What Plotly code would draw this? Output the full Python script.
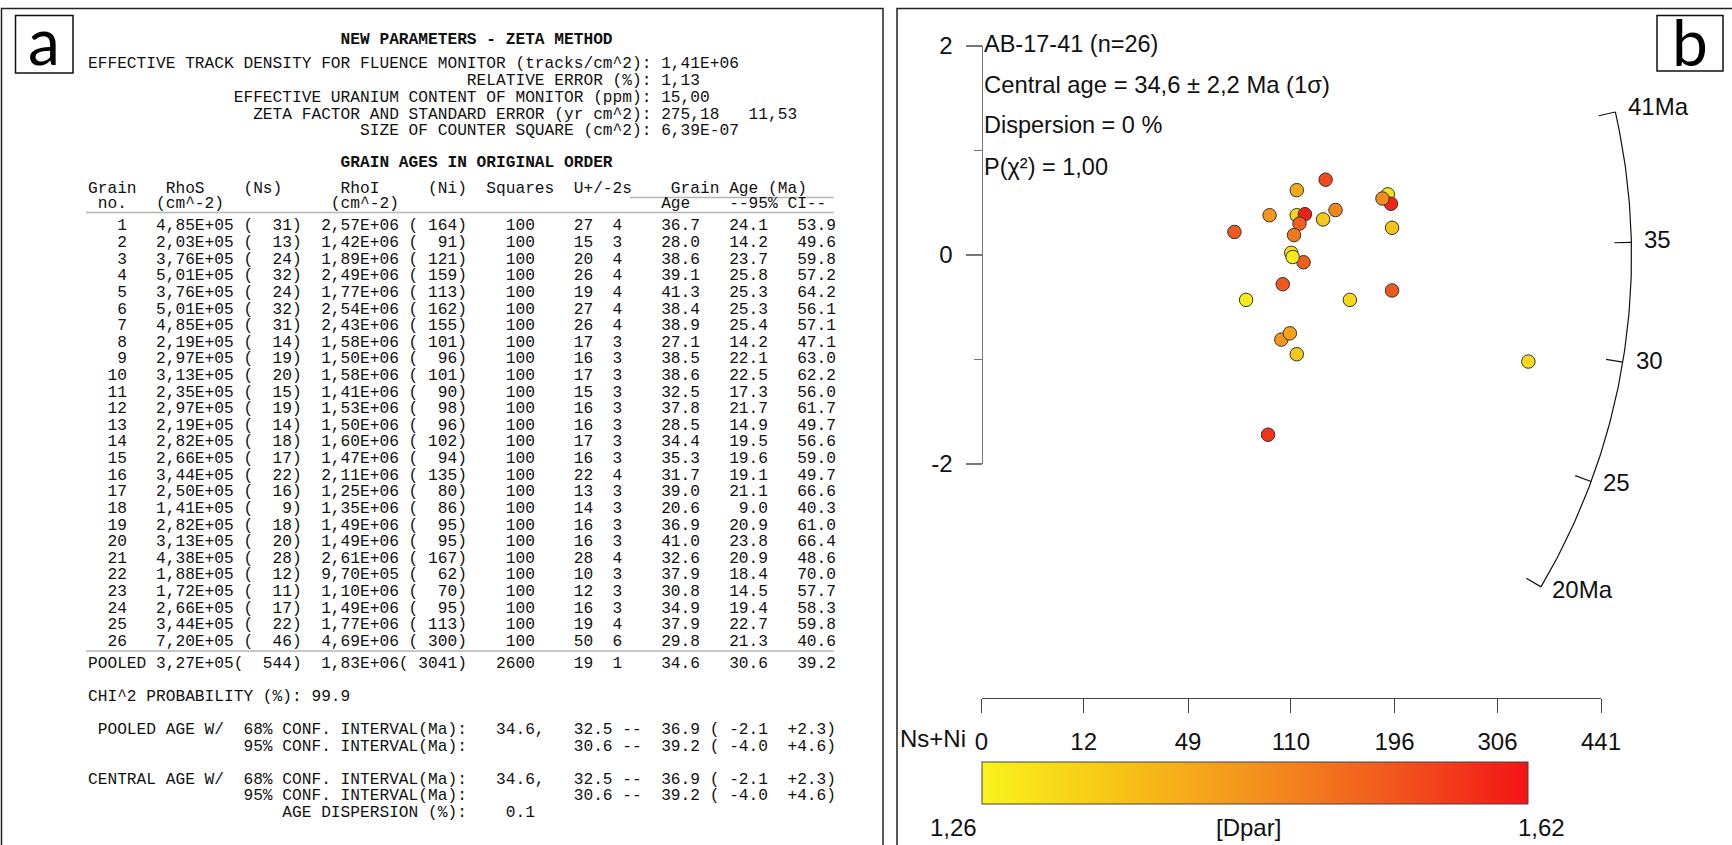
import math
import plotly.graph_objects as go

W, H = 1732, 845

# ---------------- data ----------------
grain = [1, 2, 3, 4, 5, 6, 7, 8, 9, 10, 11, 12, 13, 14, 15, 16, 17, 18, 19, 20, 21, 22, 23, 24, 25, 26]
rhos = ["4,85E+05", "2,03E+05", "3,76E+05", "5,01E+05", "3,76E+05", "5,01E+05", "4,85E+05",
        "2,19E+05", "2,97E+05", "3,13E+05", "2,35E+05", "2,97E+05", "2,19E+05", "2,82E+05",
        "2,66E+05", "3,44E+05", "2,50E+05", "1,41E+05", "2,82E+05", "3,13E+05", "4,38E+05",
        "1,88E+05", "1,72E+05", "2,66E+05", "3,44E+05", "7,20E+05"]
ns = [31, 13, 24, 32, 24, 32, 31, 14, 19, 20, 15, 19, 14, 18, 17, 22, 16, 9, 18, 20, 28, 12, 11, 17, 22, 46]
rhoi = ["2,57E+06", "1,42E+06", "1,89E+06", "2,49E+06", "1,77E+06", "2,54E+06", "2,43E+06",
        "1,58E+06", "1,50E+06", "1,58E+06", "1,41E+06", "1,53E+06", "1,50E+06", "1,60E+06",
        "1,47E+06", "2,11E+06", "1,25E+06", "1,35E+06", "1,49E+06", "1,49E+06", "2,61E+06",
        "9,70E+05", "1,10E+06", "1,49E+06", "1,77E+06", "4,69E+06"]
ni = [164, 91, 121, 159, 113, 162, 155, 101, 96, 101, 90, 98, 96, 102, 94, 135, 80, 86, 95, 95, 167, 62, 70, 95, 113, 300]
squares = [100, 100, 100, 100, 100, 100, 100, 100, 100, 100, 100, 100, 100,
           100, 100, 100, 100, 100, 100, 100, 100, 100, 100, 100, 100, 100]
u_ppm = [27, 15, 20, 26, 19, 27, 26, 17, 16, 17, 15, 16, 16, 17, 16, 22, 13, 14, 16, 16, 28, 10, 12, 16, 19, 50]
u_2s = [4, 3, 4, 4, 4, 4, 4, 3, 3, 3, 3, 3, 3, 3, 3, 4, 3, 3, 3, 3, 4, 3, 3, 3, 4, 6]
age = [36.7, 28.0, 38.6, 39.1, 41.3, 38.4, 38.9, 27.1, 38.5, 38.6, 32.5, 37.8, 28.5, 34.4, 35.3,
       31.7, 39.0, 20.6, 36.9, 41.0, 32.6, 37.9, 30.8, 34.9, 37.9, 29.8]
ci_lo = [24.1, 14.2, 23.7, 25.8, 25.3, 25.3, 25.4, 14.2, 22.1, 22.5, 17.3, 21.7, 14.9, 19.5, 19.6,
         19.1, 21.1, 9.0, 20.9, 23.8, 20.9, 18.4, 14.5, 19.4, 22.7, 21.3]
ci_hi = [53.9, 49.6, 59.8, 57.2, 64.2, 56.1, 57.1, 47.1, 63.0, 62.2, 56.0, 61.7, 49.7, 56.6, 59.0,
         49.7, 66.6, 40.3, 61.0, 66.4, 48.6, 70.0, 57.7, 58.3, 59.8, 40.6]

# radial plot: standardised estimate (y) and Dpar colour, read per grain
radial_y = [0.27, -0.80, 0.44, 0.59, 0.73, 0.50, 0.55, -0.94, 0.39, 0.40, -0.27, 0.31, -0.74,
            -0.06, 0.03, -0.42, 0.39, -1.71, 0.20, 0.63, -0.33, 0.23, -0.42, -0.01, 0.35, -1.01]
dpar = [1.35, 1.43, 1.46, 1.29, 1.55, 1.60, 1.45, 1.34, 1.31, 1.61, 1.53, 1.52, 1.41,
        1.52, 1.30, 1.31, 1.43, 1.58, 1.48, 1.40, 1.53, 1.53, 1.28, 1.28, 1.34, 1.31]

nsni_ticks = [0, 12, 49, 110, 196, 306, 441]
z_ticks = [-2, 0, 2]
z_minor = [-1, 1]
arc_ages = [41, 35, 30, 25, 20]
arc_labels = ["41Ma", "35", "30", "25", "20Ma"]
arc_angle_deg = [12.8, 1.2, -9.4, -20.3, -30.6]   # tick directions
dpar_min, dpar_max = 1.26, 1.62

sample = "AB-17-41"
central_age, central_err = "34,6", "2,2"
dispersion = "0"
p_chi2 = "1,00"

# ---------------- layout constants (pixels) ----------------
MONO = "Liberation Mono, Courier New, monospace"
SANS = "Liberation Sans, Arial, Helvetica, sans-serif"
TX0 = 86.0        # left of table text
CW = 9.71         # char width
X0, XS = 981.5, 29.4     # radial x origin px, px per sqrt(Ns+Ni)
Y0, YS = 256.0, 104.5    # radial y origin px, px per sigma
R_ARC = 650.0

def fx(px):
    return px / W

def fy(py):
    return 1 - py / H

annotations = []
shapes = []

def text_ann(text, px, py, size, family=SANS, xanchor="left", color="#111", bold=False):
    t = f"<b>{text}</b>" if bold else text
    annotations.append(dict(text=t, x=fx(px), y=fy(py), xref="paper", yref="paper",
                            xanchor=xanchor, yanchor="middle", showarrow=False,
                            font=dict(family=family, size=size, color=color)))

def line_px(x0, y0, x1, y1, color="#222", width=1.5):
    shapes.append(dict(type="line", xref="paper", yref="paper", x0=fx(x0), y0=fy(y0),
                       x1=fx(x1), y1=fy(y1), line=dict(color=color, width=width)))

class Row:
    def __init__(self):
        self.buf = [" "] * 78
    def put(self, text, col, right=False):
        text = str(text)
        s = col - len(text) + 1 if right else col
        for i, ch in enumerate(text):
            self.buf[s + i] = ch
        return self
    def s(self):
        return "".join(self.buf).rstrip().replace(" ", "\u00a0")

FS = 16.2
def mono(row_str, py, bold=False):
    text_ann(row_str, TX0, py, FS, family=MONO, bold=bold)

# ---------------- left panel ----------------
mono(Row().put("NEW PARAMETERS - ZETA METHOD", 26).s(), 39.8, bold=True)
mono(Row().put("EFFECTIVE TRACK DENSITY FOR FLUENCE MONITOR (tracks/cm^2): 1,41E+06", 0).s(), 64.1)
mono(Row().put("RELATIVE ERROR (%): 1,13", 39).s(), 81.0)
mono(Row().put("EFFECTIVE URANIUM CONTENT OF MONITOR (ppm): 15,00", 15).s(), 97.9)
mono(Row().put("ZETA FACTOR AND STANDARD ERROR (yr cm^2): 275,18   11,53", 17).s(), 114.8)
mono(Row().put("SIZE OF COUNTER SQUARE (cm^2): 6,39E-07", 28).s(), 131.4)
mono(Row().put("GRAIN AGES IN ORIGINAL ORDER", 26).s(), 163.5, bold=True)

mono(Row().put("Grain", 0).put("RhoS", 8).put("(Ns)", 16).put("RhoI", 26).put("(Ni)", 35)
     .put("Squares", 41).put("U+/-2s", 50).put("Grain Age (Ma)", 60).s(), 188.9)
mono(Row().put("no.", 1).put("(cm^-2)", 7).put("(cm^-2)", 25).put("Age", 59)
     .put("--95% CI--", 66).s(), 204.4)
line_px(TX0 + 56.0 * CW, 197.5, TX0 + 77 * CW, 197.5, color="#b5b5b5", width=1.5)
line_px(TX0, 212.5, TX0 + 77 * CW, 212.5, color="#b5b5b5", width=1.5)

ROW0, RSTEP = 226.4, 16.62
for k in range(len(grain)):
    r = (Row().put(grain[k], 3, True).put(rhos[k], 7).put("(", 16).put(ns[k], 20, True).put(")", 21)
         .put(rhoi[k], 24).put("(", 33).put(ni[k], 37, True).put(")", 38)
         .put(squares[k], 45, True).put(u_ppm[k], 51, True).put(u_2s[k], 54, True)
         .put(f"{age[k]:.1f}", 62, True).put(f"{ci_lo[k]:.1f}", 69, True).put(f"{ci_hi[k]:.1f}", 76, True))
    mono(r.s(), ROW0 + RSTEP * k)
line_px(TX0, 651.0, TX0 + 77 * CW, 651.0, color="#b5b5b5", width=1.5)

mono(Row().put("POOLED", 0).put("3,27E+05", 7).put("(", 15).put(544, 20, True).put(")", 21)
     .put("1,83E+06", 24).put("(", 32).put(3041, 37, True).put(")", 38).put(2600, 45, True)
     .put(19, 51, True).put(1, 54, True).put("34.6", 62, True).put("30.6", 69, True)
     .put("39.2", 76, True).s(), 663.9)
mono(Row().put("CHI^2 PROBABILITY (%): 99.9", 0).s(), 697.0)

def ci_row(lead, pct, central, lo, hi, dlo, dhi):
    r = Row().put(lead, 0).put(f"{pct} CONF. INTERVAL(Ma):", 16)
    if central:
        r.put(central, 42)
    r.put(lo, 53, True).put("--", 55).put(hi, 62, True).put("(", 64).put(dlo, 69, True)
    r.put(dhi, 75, True).put(")", 76)
    return r.s()

mono(ci_row(" POOLED AGE W/", "68%", "34.6,", "32.5", "36.9", "-2.1", "+2.3"), 730.2)
mono(ci_row("", "95%", None, "30.6", "39.2", "-4.0", "+4.6"), 746.7)
mono(ci_row("CENTRAL AGE W/", "68%", "34.6,", "32.5", "36.9", "-2.1", "+2.3"), 779.9)
mono(ci_row("", "95%", None, "30.6", "39.2", "-4.0", "+4.6"), 796.4)
mono(Row().put("AGE DISPERSION (%):", 20).put("0.1", 45, True).s(), 813.0)

# panel frames and letters
shapes.append(dict(type="rect", xref="paper", yref="paper", x0=fx(1.5), y0=fy(H + 10),
                   x1=fx(883), y1=fy(8.5), line=dict(color="#222", width=1.5)))
shapes.append(dict(type="rect", xref="paper", yref="paper", x0=fx(897), y0=fy(H + 10),
                   x1=fx(W + 10), y1=fy(8.5), line=dict(color="#222", width=1.5)))
shapes.append(dict(type="rect", xref="paper", yref="paper", x0=fx(15.5), y0=fy(73),
                   x1=fx(73), y1=fy(15.5), line=dict(color="#111", width=1.5)))
shapes.append(dict(type="rect", xref="paper", yref="paper", x0=fx(1657), y0=fy(71),
                   x1=fx(1723), y1=fy(15.5), line=dict(color="#111", width=1.5)))
text_ann("a", 44, 40, 64, family="Lato, Open Sans, sans-serif", xanchor="center", color="#000")
text_ann("b", 1690, 42, 64, family="Lato, Open Sans, sans-serif", xanchor="center", color="#000")

# ---------------- right panel: radial plot ----------------
fig = go.Figure()

px_ = [math.sqrt(a + b) for a, b in zip(ns, ni)]
fig.add_trace(go.Scatter(
    x=px_, y=radial_y, mode="markers", xaxis="x", yaxis="y", showlegend=False,
    marker=dict(size=13.5, color=dpar, cmin=dpar_min, cmax=dpar_max,
                colorscale=[[0, "#f9f31c"], [0.25, "#f6c416"], [0.5, "#f3921d"],
                            [0.75, "#f1581d"], [1, "#f31416"]],
                line=dict(color="#333", width=1),
                showscale=True,
                colorbar=dict(orientation="h", lenmode="pixels", len=546, thickness=42,
                              x=fx(982), xanchor="left", y=fy(805), yanchor="bottom",
                              xpad=0, ypad=0, outlinecolor="#444", outlinewidth=1,
                              showticklabels=False, ticks=""))))

# arc of ages
th0, th1 = math.radians(arc_angle_deg[-1]), math.radians(arc_angle_deg[0])
n = 120
arc_x, arc_y = [], []
for i in range(n + 1):
    t = th0 + (th1 - th0) * i / n
    arc_x.append(R_ARC * math.cos(t) / XS)
    arc_y.append(R_ARC * math.sin(t) / YS)
fig.add_trace(go.Scatter(x=arc_x, y=arc_y, mode="lines", line=dict(color="#111", width=1.2),
                         xaxis="x", yaxis="y", showlegend=False, hoverinfo="skip"))
tx, ty = [], []
for deg in arc_angle_deg:
    t = math.radians(deg)
    for rr in (R_ARC - 17, R_ARC):
        tx.append(rr * math.cos(t) / XS)
        ty.append(rr * math.sin(t) / YS)
    tx.append(None)
    ty.append(None)
fig.add_trace(go.Scatter(x=tx, y=ty, mode="lines", line=dict(color="#111", width=1.2),
                         xaxis="x", yaxis="y", showlegend=False, hoverinfo="skip"))
for lab, deg in zip(arc_labels, arc_angle_deg):
    t = math.radians(deg)
    rr = R_ARC + 11
    annotations.append(dict(text=lab, x=rr * math.cos(t) / XS, y=rr * math.sin(t) / YS,
                            xref="x", yref="y", xanchor="left", yanchor="middle", yshift=3,
                            showarrow=False, font=dict(family=SANS, size=24, color="#111")))

# dummy trace to instantiate the free axes
fig.add_trace(go.Scatter(x=[None], y=[None], xaxis="x2", yaxis="y2", showlegend=False,
                         hoverinfo="skip"))

# info text
text_ann(f"{sample} (n={len(grain)})", 982, 44, 23.5)
text_ann(f"Central age = {central_age} ± {central_err} Ma (1σ)", 982, 84.5, 23.8)
text_ann(f"Dispersion = {dispersion} %", 982, 125, 23.5)
text_ann(f"P(χ²) = {p_chi2}", 982, 166.5, 23.5)

# colour-bar / Ns+Ni labels
text_ann("Ns+Ni", 933, 738, 24, xanchor="center")
text_ann(f"{dpar_min:.2f}".replace(".", ","), 953, 827, 24, xanchor="center")
text_ann("[Dpar]", 1248, 827, 24, xanchor="center")
text_ann(f"{dpar_max:.2f}".replace(".", ","), 1541, 827, 24, xanchor="center")

axis_common = dict(showgrid=False, zeroline=False, fixedrange=True)
fig.update_layout(
    width=W, height=H, margin=dict(l=0, r=0, t=0, b=0, autoexpand=False),
    paper_bgcolor="white", plot_bgcolor="rgba(0,0,0,0)",
    xaxis=dict(domain=[fx(897), 1.0], range=[(897 - X0) / XS, (W - X0) / XS],
               visible=False, anchor="y", **axis_common),
    yaxis=dict(domain=[0.0, 1.0], range=[(Y0 - H) / YS, Y0 / YS],
               visible=False, anchor="x", **axis_common),
    xaxis2=dict(domain=[fx(X0), fx(X0 + math.sqrt(nsni_ticks[-1]) * 29.5)],
                range=[0, math.sqrt(nsni_ticks[-1])], anchor="free", position=fy(698),
                showline=True, linecolor="#444", linewidth=1, ticks="outside", ticklen=14,
                tickcolor="#444", tickwidth=1,
                tickvals=[math.sqrt(v) for v in nsni_ticks], ticktext=[str(v) for v in nsni_ticks],
                tickfont=dict(family=SANS, size=24, color="#111"), ticklabelstandoff=8,
                **axis_common),
    yaxis2=dict(domain=[fy(464), fy(46)], range=[z_ticks[0], z_ticks[-1]], anchor="free",
                position=fx(X0), showline=True, linecolor="#777", linewidth=1.2,
                ticks="outside", ticklen=16, tickcolor="#777", tickwidth=1.2,
                tickvals=z_ticks, ticktext=[str(v) for v in z_ticks],
                minor=dict(tickvals=z_minor, ticks="outside", ticklen=8, tickcolor="#777",
                           tickwidth=1.2),
                tickfont=dict(family=SANS, size=24, color="#111"), ticklabelstandoff=8,
                **axis_common),
    annotations=annotations, shapes=shapes,
)

fig.write_html("out.html", config={"displayModeBar": False, "staticPlot": True},
               post_script="document.body.style.margin='0';"
                           "document.body.style.overflow='hidden';")
